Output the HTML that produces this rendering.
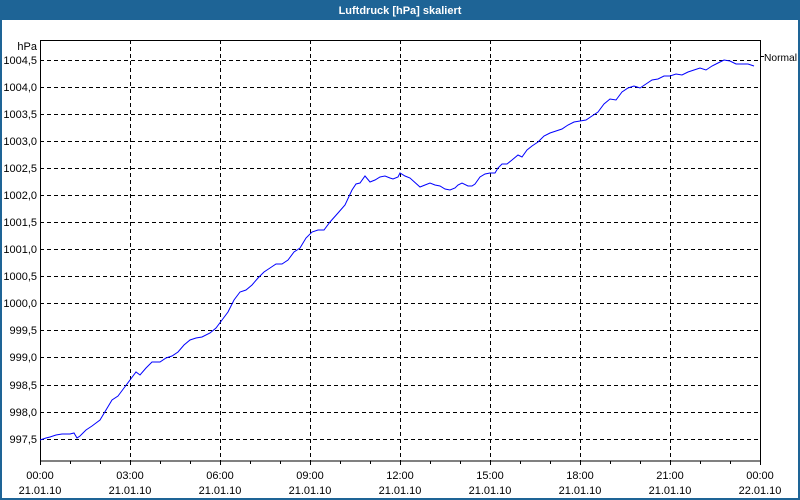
<!DOCTYPE html>
<html><head><meta charset="utf-8"><style>
body{margin:0;background:#fff;}
svg{display:block;font-family:"Liberation Sans",sans-serif;}
</style></head><body>
<svg width="800" height="500" xmlns="http://www.w3.org/2000/svg">
<rect x="0" y="0" width="800" height="500" fill="#1e6496"/>
<rect x="2" y="20" width="796" height="478" fill="#fff"/>
<text x="400" y="14" text-anchor="middle" fill="#fff" font-size="11" font-weight="bold">Luftdruck [hPa] skaliert</text>
<g stroke="#000" stroke-dasharray="4,3" stroke-width="1">
<line x1="40" y1="60.5" x2="760" y2="60.5"/>
<line x1="40" y1="87.5" x2="760" y2="87.5"/>
<line x1="40" y1="114.5" x2="760" y2="114.5"/>
<line x1="40" y1="141.5" x2="760" y2="141.5"/>
<line x1="40" y1="168.5" x2="760" y2="168.5"/>
<line x1="40" y1="195.5" x2="760" y2="195.5"/>
<line x1="40" y1="222.5" x2="760" y2="222.5"/>
<line x1="40" y1="249.5" x2="760" y2="249.5"/>
<line x1="40" y1="276.5" x2="760" y2="276.5"/>
<line x1="40" y1="303.5" x2="760" y2="303.5"/>
<line x1="40" y1="330.5" x2="760" y2="330.5"/>
<line x1="40" y1="357.5" x2="760" y2="357.5"/>
<line x1="40" y1="385.5" x2="760" y2="385.5"/>
<line x1="40" y1="412.5" x2="760" y2="412.5"/>
<line x1="40" y1="439.5" x2="760" y2="439.5"/>
<line x1="130.5" y1="40" x2="130.5" y2="461"/>
<line x1="220.5" y1="40" x2="220.5" y2="461"/>
<line x1="310.5" y1="40" x2="310.5" y2="461"/>
<line x1="400.5" y1="40" x2="400.5" y2="461"/>
<line x1="490.5" y1="40" x2="490.5" y2="461"/>
<line x1="580.5" y1="40" x2="580.5" y2="461"/>
<line x1="670.5" y1="40" x2="670.5" y2="461"/>
</g>
<rect x="40.5" y="40.5" width="720" height="420.5" fill="none" stroke="#000"/>
<g stroke="#000">
<line x1="40.5" y1="461" x2="40.5" y2="465"/><line x1="70.5" y1="461" x2="70.5" y2="464"/><line x1="100.5" y1="461" x2="100.5" y2="464"/>
<line x1="130.5" y1="461" x2="130.5" y2="465"/><line x1="160.5" y1="461" x2="160.5" y2="464"/><line x1="190.5" y1="461" x2="190.5" y2="464"/>
<line x1="220.5" y1="461" x2="220.5" y2="465"/><line x1="250.5" y1="461" x2="250.5" y2="464"/><line x1="280.5" y1="461" x2="280.5" y2="464"/>
<line x1="310.5" y1="461" x2="310.5" y2="465"/><line x1="340.5" y1="461" x2="340.5" y2="464"/><line x1="370.5" y1="461" x2="370.5" y2="464"/>
<line x1="400.5" y1="461" x2="400.5" y2="465"/><line x1="430.5" y1="461" x2="430.5" y2="464"/><line x1="460.5" y1="461" x2="460.5" y2="464"/>
<line x1="490.5" y1="461" x2="490.5" y2="465"/><line x1="520.5" y1="461" x2="520.5" y2="464"/><line x1="550.5" y1="461" x2="550.5" y2="464"/>
<line x1="580.5" y1="461" x2="580.5" y2="465"/><line x1="610.5" y1="461" x2="610.5" y2="464"/><line x1="640.5" y1="461" x2="640.5" y2="464"/>
<line x1="670.5" y1="461" x2="670.5" y2="465"/><line x1="700.5" y1="461" x2="700.5" y2="464"/><line x1="730.5" y1="461" x2="730.5" y2="464"/>
<line x1="760.5" y1="461" x2="760.5" y2="465"/>
<line x1="760" y1="56.5" x2="764" y2="56.5"/>
</g>
<g font-size="11" fill="#000" text-anchor="end">
<text x="37" y="50">hPa</text>
<text x="37" y="64">1004,5</text><text x="37" y="91">1004,0</text><text x="37" y="118">1003,5</text>
<text x="37" y="145">1003,0</text><text x="37" y="172">1002,5</text><text x="37" y="199">1002,0</text>
<text x="37" y="226">1001,5</text><text x="37" y="253">1001,0</text><text x="37" y="280">1000,5</text>
<text x="37" y="307">1000,0</text><text x="37" y="334">999,5</text><text x="37" y="361">999,0</text>
<text x="37" y="389">998,5</text><text x="37" y="416">998,0</text><text x="37" y="443">997,5</text>
</g>
<text x="764" y="61" font-size="10.5" textLength="33" lengthAdjust="spacingAndGlyphs">Normal</text>
<g font-size="11" text-anchor="middle">
<text x="40" y="479">00:00</text><text x="40" y="494">21.01.10</text>
<text x="130" y="479">03:00</text><text x="130" y="494">21.01.10</text>
<text x="220" y="479">06:00</text><text x="220" y="494">21.01.10</text>
<text x="310" y="479">09:00</text><text x="310" y="494">21.01.10</text>
<text x="400" y="479">12:00</text><text x="400" y="494">21.01.10</text>
<text x="490" y="479">15:00</text><text x="490" y="494">21.01.10</text>
<text x="580" y="479">18:00</text><text x="580" y="494">21.01.10</text>
<text x="670" y="479">21:00</text><text x="670" y="494">21.01.10</text>
<text x="760" y="479">00:00</text><text x="760" y="494">22.01.10</text>
</g>
<polyline fill="none" stroke="#0000ff" stroke-width="1" points="40,440 46,438 50,437 56,435 62,434 70,434 74,433 77,438 80,436 86,430 92,426 96,423 100,420 106,410 112,400 118,396 124,388 130,380 136,372 140,375 146,368 152,362 160,362 166,358 172,356 178,352 184,345 190,340 196,338 202,337 210,333 216,328 222,320 228,312 234,300 240,292 246,290 252,285 258,278 264,272 270,268 276,264 282,264 288,260 294,252 300,248 306,238 312,232 318,230 324,230 330,222 338,213 345,205 352,190 356,184 360,183 365,176 370,182 375,180 380,177 385,176 390,178 393,179 398,177 400,173 405,176 410,178 420,187 425,185 430,183 435,185 440,186 445,189 450,190 455,188 458,185 462,183 468,186 472,186 475,184 480,177 485,174 490,173 495,173 498,168 502,164 507,164 512,160 518,155 522,157 527,150 532,146 538,142 544,136 550,133 556,131 562,129 568,125 574,122 580,121 586,120 592,116 598,112 604,104 610,99 616,100 622,92 628,88 634,86 640,88 646,84 652,80 658,79 664,76 670,76 676,74 682,75 688,72 694,70 700,68 706,70 712,66 718,63 724,60 730,61 736,64 742,64 748,64 754,66"/>
</svg>
</body></html>
